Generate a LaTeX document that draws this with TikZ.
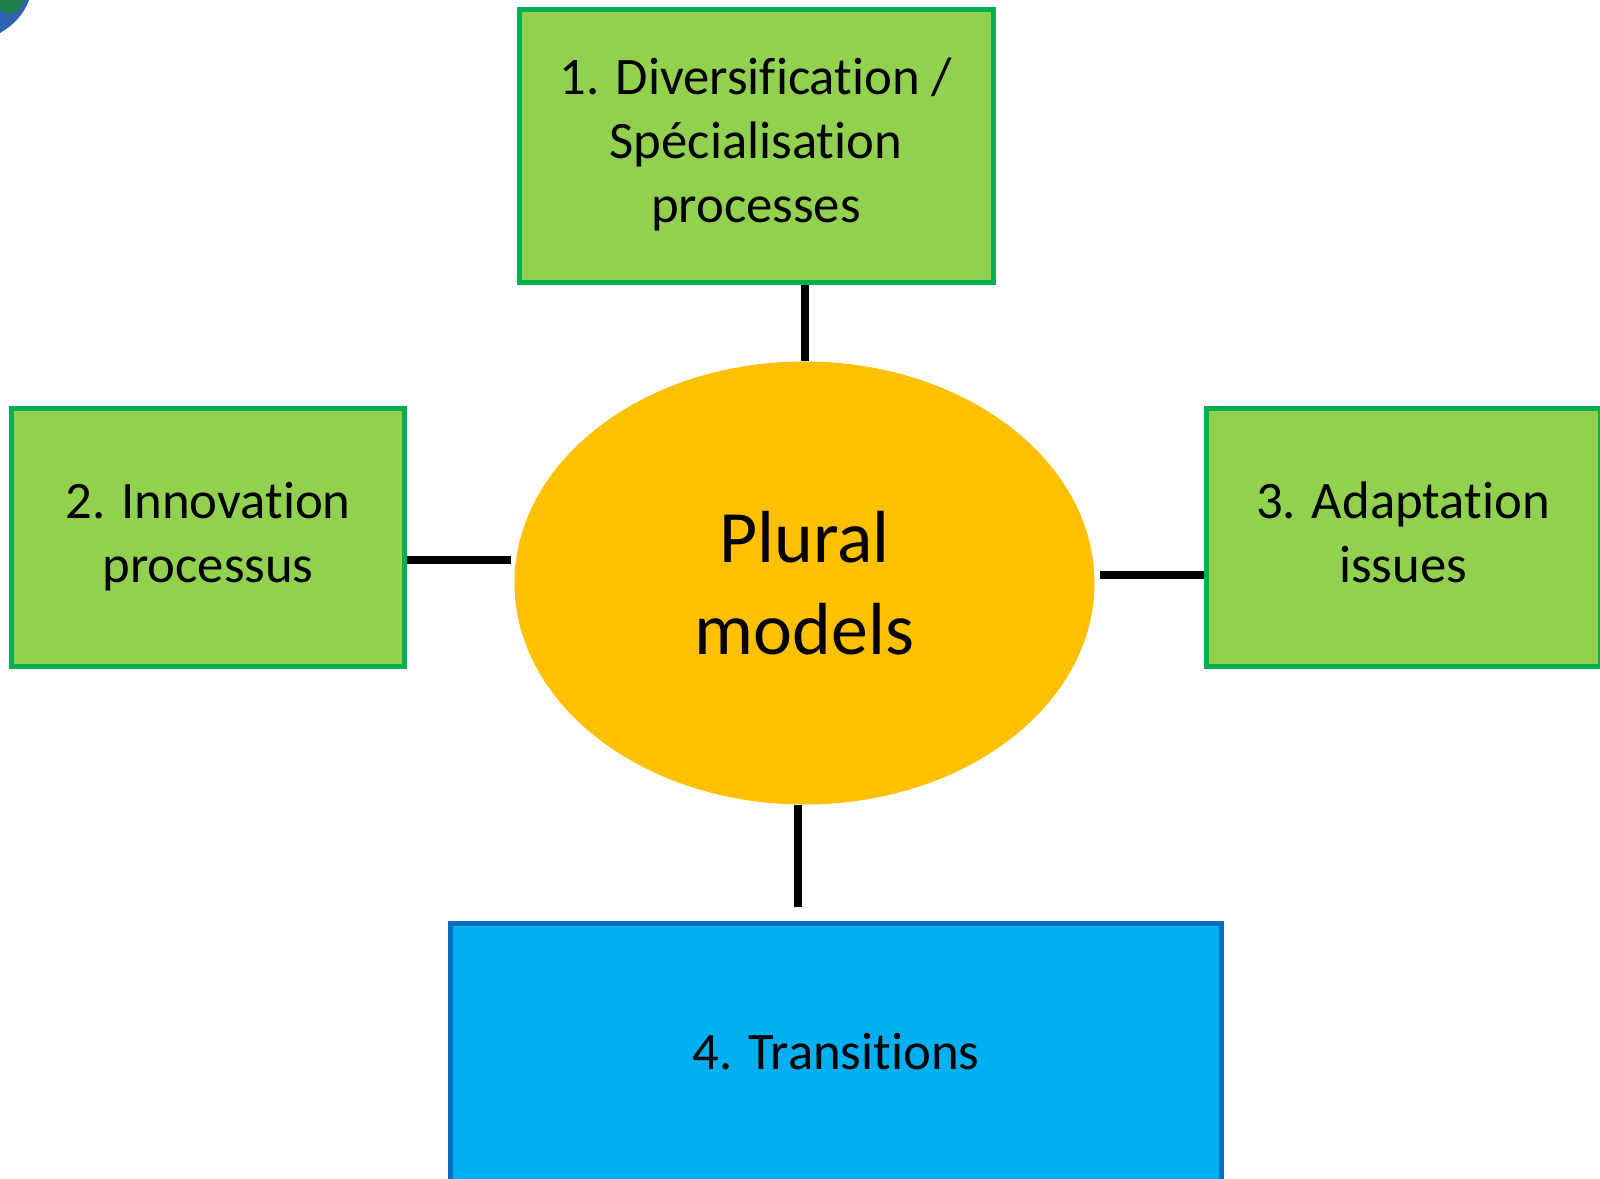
\documentclass[tikz,border=0pt]{standalone}
\usepackage{fontspec}
\setmainfont[Ligatures=NoCommon]{Carlito}
\usepackage{tikz}
\usetikzlibrary{shapes.geometric}
\definecolor{boxgreen}{HTML}{92D050}
\definecolor{edgegreen}{HTML}{00B050}
\definecolor{boxblue}{HTML}{00B0F0}
\definecolor{edgeblue}{HTML}{0070C0}
\definecolor{discorange}{HTML}{FFC000}
\definecolor{globeblue}{HTML}{2F62B0}
\definecolor{globegreen}{HTML}{1F7F4A}
\newcommand{\boxstrut}{\rule[-3.34pt]{0pt}{16.34pt}}
\tikzset{
	greenbox/.style={shape=rectangle,draw=edgegreen,fill=boxgreen,line width=0.05cm,align=center,inner sep=0pt,font=\fontsize{15}{18.2}\selectfont,execute at begin node=\boxstrut,execute at end node=\boxstrut},
	bluebox/.style={greenbox,draw=edgeblue,fill=boxblue},
	link/.style={draw=black,line width=0.08cm}
}

\begin{document}
\begin{tikzpicture}

		\clip (0, 0) rectangle (16, 11.78);
		\fill[white] (0, 0) rectangle (16, 11.78);

		% corner of the globe
		\fill[globeblue] (0, 11.45) .. controls (0.14, 11.53) and (0.24, 11.64) .. (0.29, 11.78) -- (0, 11.78) -- cycle;
		\fill[globegreen] (0, 11.68) -- (0.10, 11.64) -- (0.17, 11.66) -- (0.25, 11.78) -- (0, 11.78) -- cycle;

		\node[greenbox,minimum width=4.74cm,minimum height=2.73cm] (diversification) at (7.56, 10.32) {1. Diversification /\\Spécialisation\\processes};
		\node[greenbox,minimum width=3.93cm,minimum height=2.58cm] (innovation) at (2.08, 6.40) {2. Innovation\\processus};
		\node[greenbox,minimum width=3.94cm,minimum height=2.58cm] (adaptation) at (14.03, 6.40) {3. Adaptation\\issues};
		\node[bluebox,minimum width=7.71cm,minimum height=2.58cm] (transitions) at (8.36, 1.25) {4. Transitions};
		\node[shape=ellipse,fill=discorange,inner sep=0pt,minimum width=5.80cm,minimum height=4.43cm,align=center,font=\fontsize{21}{26.2}\selectfont] (plural) at (8.045, 5.95) {Plural\\models};

		\coordinate (lefttip) at (5.11, 6.18);
		\coordinate (righttip) at (11.0, 6.03);
		\coordinate (bottomtip) at (7.98, 2.71);

		\path[link] (plural.north) -- (plural.north |- diversification.south);
		\path[link] (lefttip) -- (lefttip -| innovation.east);
		\path[link] (righttip) -- (righttip -| adaptation.west);
		\path[link] (bottomtip) -- (bottomtip |- plural.south);

		\end{tikzpicture}
\end{document}
